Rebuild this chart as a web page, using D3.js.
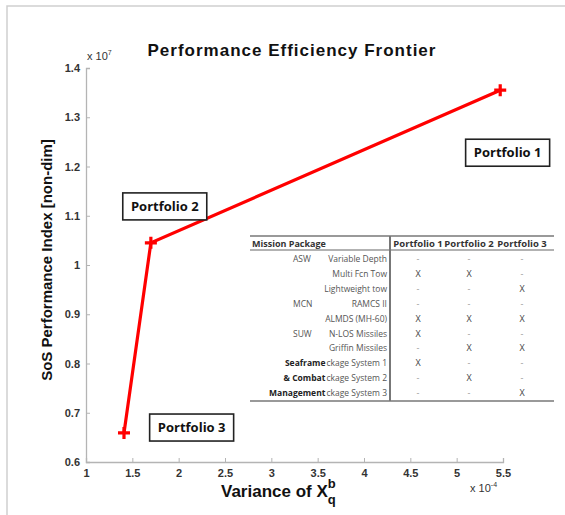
<!DOCTYPE html>
<html lang="en">
<head>
  <meta charset="UTF-8">
  <title>Performance Efficiency Frontier</title>
  <style>
    * { padding: 0; margin: 0; }
    html, body { width: 565px; height: 515px; overflow: hidden; background: #fff; }
    text { font-family: "Liberation Sans", Arial, sans-serif; }
    .tbl text { font-family: "Open Sans", "Liberation Sans", sans-serif; }
  </style>
</head>
<body>
  <script src="https://cdn.jsdelivr.net/npm/d3@7"></script>
  <script>
    // frontier points (x in 1e-4, y in 1e7)
    const portfolios = ['Portfolio 1', 'Portfolio 2', 'Portfolio 3']
    const variance = [5.47, 1.70, 1.41]
    const perfIndex = [1.355, 1.045, 0.659]
    // where the label boxes sit, in data units
    const labelX = [5.55, 1.85, 2.14]
    const labelY = [1.229, 1.12, 0.671]

    const xTicks = [1, 1.5, 2, 2.5, 3, 3.5, 4, 4.5, 5, 5.5]
    const yTicks = [0.6, 0.7, 0.8, 0.9, 1, 1.1, 1.2, 1.3, 1.4]

    // table contents
    const pkgGroup = ['ASW', '', '', 'MCN', '', 'SUW', '', 'Seaframe', '& Combat', 'Management']
    const pkgItem = ['Variable Depth', 'Multi Fcn Tow', 'Lightweight tow', 'RAMCS II', 'ALMDS (MH-60)',
      'N-LOS Missiles', 'Griffin Missiles', 'ckage System 1', 'ckage System 2', 'ckage System 3']
    const p1 = ['-', 'X', '-', '-', 'X', 'X', '-', 'X', '-', '-']
    const p2 = ['-', 'X', '-', '-', 'X', '-', 'X', '-', 'X', '-']
    const p3 = ['-', '-', 'X', '-', 'X', '-', 'X', '-', '-', 'X']

    const W = 565, H = 515
    const svg = d3.select('body').append('svg').attr('width', W).attr('height', H)

    // figure frame (only top/left visible)
    svg.append('path').attr('d', `M7,${H} L7,6 L${W},6`).attr('fill', 'none').attr('stroke', '#cfcfcf').attr('stroke-width', 1.5)

    const x = d3.scaleLinear().domain([1, 5.5]).range([86, 503])
    const y = d3.scaleLinear().domain([0.6, 1.4]).range([462, 68])

    const xAxis = svg.append('g').attr('transform', `translate(0,${y(0.6)})`)
      .call(d3.axisBottom(x).tickValues(xTicks).tickFormat(d3.format('~g')).tickSizeInner(-4).tickSizeOuter(-4).tickPadding(7))
    const yAxis = svg.append('g').attr('transform', `translate(${x(1)},0)`)
      .call(d3.axisLeft(y).tickValues(yTicks).tickFormat(d3.format('~g')).tickSizeInner(-4).tickSizeOuter(-4).tickPadding(6))
    ;[xAxis, yAxis].forEach(a => {
      a.select('.domain').attr('stroke', '#b4b4b4').attr('stroke-width', 1.3)
      a.selectAll('.tick line').attr('stroke', '#b4b4b4')
      a.selectAll('.tick text').attr('fill', '#333').style('font-size', '11px').style('font-weight', 'bold')
        .style('font-family', '"Liberation Sans", Arial, sans-serif')
    })

    // exponent notes
    const e7 = svg.append('text').attr('x', x(1) + 1).attr('y', y(1.4) - 8).attr('fill', '#333').style('font-size', '11px')
    e7.append('tspan').text('x 10')
    e7.append('tspan').text('7').attr('dy', -5).style('font-size', '7px')
    const e4 = svg.append('text').attr('x', 470).attr('y', y(0.6) + 30).attr('fill', '#333').style('font-size', '11px')
    e4.append('tspan').text('x 10')
    e4.append('tspan').text('-4').attr('dy', -5).style('font-size', '7px')

    // title and axis labels
    svg.append('text').attr('x', 292).attr('y', 56).attr('text-anchor', 'middle')
      .style('font-size', '17px').style('font-weight', 'bold').style('letter-spacing', '1px').attr('fill', '#111')
      .text('Performance Efficiency Frontier')

    const xl = svg.append('text').attr('x', 221).attr('y', 497).style('font-size', '17px').style('font-weight', 'bold').attr('fill', '#111')
    xl.append('tspan').text('Variance of X')
    xl.append('tspan').text('b').attr('dy', -9).style('font-size', '13px')
    xl.append('tspan').text('q').attr('dx', -8).attr('dy', 16).style('font-size', '13px')

    svg.append('text').attr('transform', `translate(52,260) rotate(-90)`).attr('text-anchor', 'middle')
      .style('font-size', '15px').style('font-weight', 'bold').attr('fill', '#111')
      .text('SoS Performance Index [non-dim]')

    // frontier line and markers
    const pts = portfolios.map((p, i) => ({ name: p, x: variance[i], y: perfIndex[i], lx: labelX[i], ly: labelY[i] }))
    const line = d3.line().x(d => x(d.x)).y(d => y(d.y))
    svg.append('path').datum(pts).attr('d', line).attr('fill', 'none').attr('stroke', '#ff0000').attr('stroke-width', 3.2)
    svg.selectAll('.mk').data(pts).enter().append('path').attr('class', 'mk')
      .attr('d', d => `M${x(d.x) - 6},${y(d.y)} h12 M${x(d.x)},${y(d.y) - 6} v12`)
      .attr('stroke', '#ff0000').attr('stroke-width', 3.2)

    // portfolio label boxes
    const lb = svg.selectAll('.lb').data(pts).enter().append('g').attr('class', 'lb')
      .attr('transform', d => `translate(${x(d.lx)},${y(d.ly)})`)
    lb.append('rect').attr('x', -42).attr('y', -13).attr('width', 84).attr('height', 27)
      .attr('fill', '#fff').attr('stroke', '#222').attr('stroke-width', 1.6)
    lb.append('text').attr('text-anchor', 'middle').attr('y', 5).style('font-size', '13px').style('font-weight', 'bold')
      .style('font-family', '"Open Sans", "Liberation Sans", sans-serif').attr('fill', '#111').text(d => d.name)

    // mission package table
    const tbl = svg.append('g').attr('class', 'tbl')
    const tL = 250, tR = 554, tTop = 236, hdrY = 250, rowH = 14.9, splitX = 390
    const rowY = d3.range(pkgItem.length).map(i => hdrY + 9 + i * rowH)
    const tBot = rowY[rowY.length - 1] + 8
    const colX = [418, 469, 522]
    tbl.append('line').attr('x1', tL).attr('x2', tR).attr('y1', tTop).attr('y2', tTop).attr('stroke', '#999').attr('stroke-width', 2)
    tbl.append('line').attr('x1', tL).attr('x2', tR).attr('y1', hdrY).attr('y2', hdrY).attr('stroke', '#999').attr('stroke-width', 1.3)
    tbl.append('line').attr('x1', tL).attr('x2', tR).attr('y1', tBot).attr('y2', tBot).attr('stroke', '#999').attr('stroke-width', 2)
    tbl.append('line').attr('x1', splitX).attr('x2', splitX).attr('y1', tTop).attr('y2', tBot).attr('stroke', '#777').attr('stroke-width', 2)

    tbl.append('text').attr('x', tL + 2).attr('y', hdrY - 3).style('font-size', '9px').style('font-weight', 'bold').attr('fill', '#333').text('Mission Package')
    portfolios.forEach((p, j) => {
      tbl.append('text').attr('x', colX[j]).attr('y', hdrY - 3).attr('text-anchor', 'middle')
        .style('font-size', '9.5px').style('font-weight', 'bold').attr('fill', '#333').text(p)
    })

    const marks = [p1, p2, p3]
    pkgItem.forEach((item, i) => {
      const it = tbl.append('text').attr('x', splitX - 3).attr('y', rowY[i] + 3).attr('text-anchor', 'end')
        .style('font-size', '8.5px').attr('fill', '#555').text(item)
      const g = pkgGroup[i]
      if (g) {
        const bold = i >= 7
        const gt = tbl.append('text').attr('y', rowY[i] + 3).style('font-size', '8.5px').attr('fill', bold ? '#222' : '#555')
          .style('font-weight', bold ? 'bold' : 'normal').text(g)
        if (bold) {
          gt.attr('x', splitX - 3 - it.node().getComputedTextLength() - 1).attr('text-anchor', 'end')
        } else {
          gt.attr('x', 293)
        }
      }
      marks.forEach((m, j) => {
        tbl.append('text').attr('x', colX[j]).attr('y', rowY[i] + 3).attr('text-anchor', 'middle')
          .style('font-size', '9px').attr('fill', m[i] === 'X' ? '#444' : '#999').text(m[i])
      })
    })
  </script>
</body>
</html>
